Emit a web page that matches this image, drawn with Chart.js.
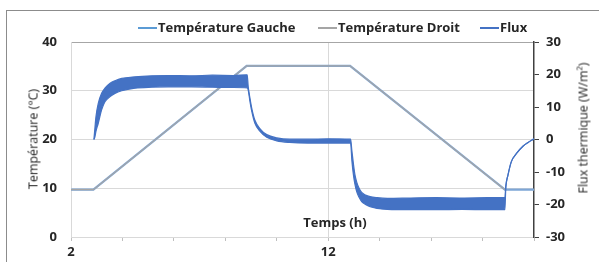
<!DOCTYPE html>
<html><head><meta charset="utf-8">
<script src="https://cdn.jsdelivr.net/npm/chart.js@4/dist/chart.umd.min.js"></script>
<style>
body{margin:0;background:#fff;font-family:'Open Sans','Liberation Sans',sans-serif;color:#262626}
#wrap{position:relative;width:599px;height:262px;overflow:hidden}
#frame{position:absolute;left:6px;top:10px;width:640px;height:320px;border:1px solid #8c8c8c}
canvas{position:absolute;left:0;top:0}
.lg{position:absolute;top:18px;font-weight:700;font-size:13px;line-height:18px;white-space:nowrap}
.lg i{display:inline-block;width:19px;height:2px;vertical-align:middle;margin:0 1px 2px 0}
.ttl{position:absolute;font-size:12.5px;white-space:nowrap;transform:translate(-50%,-50%) rotate(-90deg)}
#xt{position:absolute;left:335px;top:222px;transform:translate(-50%,-50%);font-size:13px;font-weight:700}
</style>
</head><body>
<div id="wrap">
  <div id="frame"></div>
  <canvas id="c" width="599" height="262"></canvas>
  <div class="lg" style="left:138px"><i style="background:#5b9bd5"></i>Température Gauche</div>
  <div class="lg" style="left:318px"><i style="background:#a5a5a5"></i>Température Droit</div>
  <div class="lg" style="left:480px"><i style="background:#4472c4"></i>Flux</div>
  <div class="ttl" style="left:33px;top:139px">Température (°C)</div>
  <div class="ttl" style="left:583px;top:128px">Flux thermique (W/m²)</div>
  <div id="xt">Temps (h)</div>
</div>
<script>
// temperatures (h, °C)
const tempTime=[2,2.87,8.83,12.85,18.87,20];
const tempGauche=[9.7,9.7,35.1,35.1,9.7,9.7];
const tempDroit=[9.7,9.7,35.1,35.1,9.7,null];

// flux thermique: upper / lower edge of the noisy band (W/m²)
const fluxTime=[2.89,2.93,2.97,3.06,3.19,3.32,3.52,3.71,3.97,4.49,5.14,5.78,6.69,7.5,8.3,8.85,
  8.89,8.96,9.03,9.15,9.35,9.61,10.0,10.5,11.2,12.0,12.87,
  12.92,12.98,13.04,13.11,13.2,13.3,13.45,13.63,13.9,14.3,15.2,16.2,17.2,18.2,18.87,
  18.9,18.99,19.12,19.32,19.58,19.77,20];
const fluxHaut=[0,3.5,7.0,11.1,14.2,15.8,17.3,18.1,18.8,19.3,19.6,19.7,19.6,19.8,19.7,19.9,
  16.2,12.6,9.5,5.9,3.3,1.5,0.5,0.1,0.1,0.2,0.1,
  -3.5,-7.5,-10.9,-13.2,-15.0,-16.3,-17.1,-17.6,-17.9,-18.1,-18.0,-17.9,-18.0,-17.9,-17.9,
  -14.5,-10.9,-6.8,-4.3,-2.0,-0.9,0.2];
const fluxBas=[0,0.8,2.5,5.0,9.1,11.6,13.2,14.2,15.0,15.8,16.1,16.2,16.2,16.1,16.0,15.9,
  15.2,11.6,8.6,5.0,2.5,0.7,-0.4,-0.9,-1.1,-1.1,-1.1,
  -6.5,-10.9,-13.8,-16.1,-17.8,-19.1,-20.0,-20.7,-21.2,-21.5,-21.6,-21.6,-21.5,-21.6,-21.6,
  -15.5,-10.9,-6.8,-4.3,-2.0,-0.9,0.2];

const xLabels=[2,12];
const tickFont={family:"'Open Sans','Liberation Sans',sans-serif",size:13,weight:'bold'};

const pts=(t,v)=>t.map((x,i)=>({x,y:v[i]}));
const line=(label,data,color,w,axis,extra)=>Object.assign({label,data,borderColor:color,backgroundColor:color,
  borderWidth:w,pointRadius:0,yAxisID:axis,fill:false,tension:0},extra||{});

new Chart(document.getElementById('c'),{
  type:'line',
  data:{datasets:[
    line('Flux',pts(fluxTime,fluxHaut),'#4472c4',1.2,'y1',{cubicInterpolationMode:'monotone'}),
    line('Flux bas',pts(fluxTime,fluxBas),'#4472c4',1.2,'y1',{fill:'-1',cubicInterpolationMode:'monotone'}),
    line('Température Droit',pts(tempTime,tempDroit),'#a5a5a5',1.2,'y',{spanGaps:false}),
    line('Température Gauche',pts(tempTime,tempGauche),'#7ea6d6',2.2,'y')
  ]},
  options:{
    responsive:false,animation:false,
    layout:{padding:{top:42,left:0,right:0,bottom:0}},
    plugins:{legend:{display:false},tooltip:{enabled:false}},
    scales:{
      x:{type:'linear',min:2,max:20,
        afterFit(s){s.height=25;},
        ticks:{stepSize:2,autoSkip:false,maxRotation:0,padding:3,color:'#262626',font:tickFont,
          callback:v=>xLabels.includes(v)?v:''},
        grid:{color:c=>c.tick&&c.tick.value===12?'#d9d9d9':'rgba(0,0,0,0)',tickColor:'#bfbfbf',tickLength:4},
        border:{color:'#d9d9d9'}},
      y:{position:'left',min:0,max:40,
        afterFit(s){s.width=71;},
        ticks:{stepSize:10,padding:14,color:'#262626',font:tickFont},
        grid:{drawTicks:false,color:c=>c.tick&&c.tick.value===40?'#a6a6a6':'#d9d9d9'},
        border:{color:'#d9d9d9'}},
      y1:{position:'right',min:-30,max:30,
        afterFit(s){s.width=65;},
        ticks:{stepSize:10,padding:7,color:'#262626',font:tickFont},
        grid:{drawOnChartArea:false,tickLength:5,tickColor:'#404040'},
        border:{color:'#404040',width:1.5}}
    }
  }
});
</script>
</body></html>
